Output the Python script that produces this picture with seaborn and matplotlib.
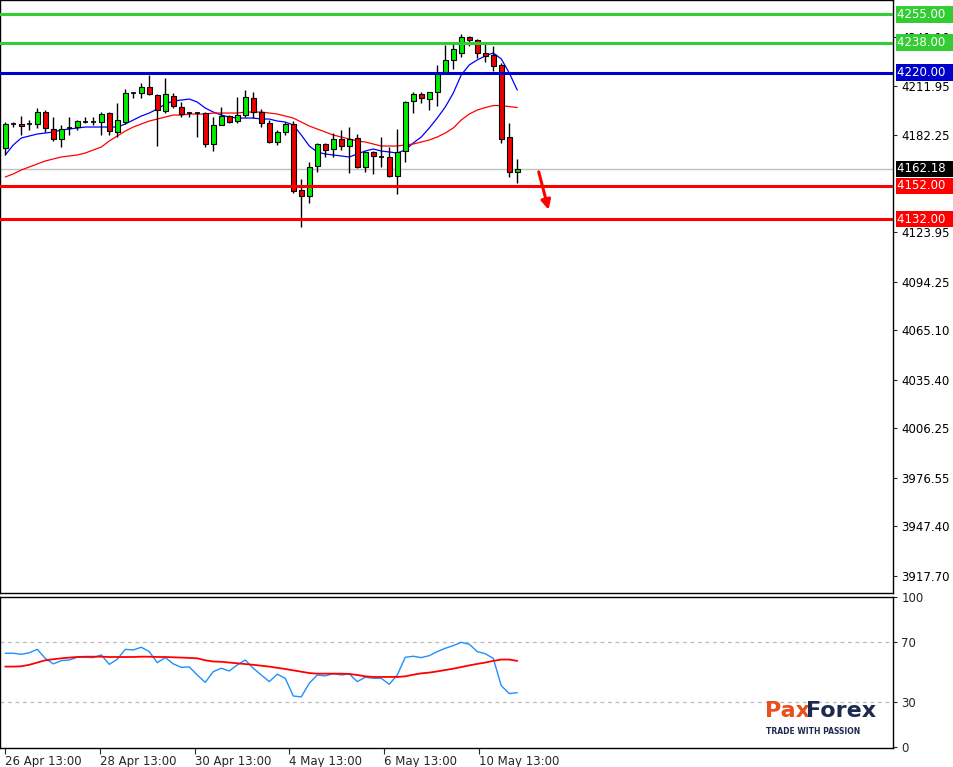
import numpy as np
import pandas as pd
import matplotlib
matplotlib.use("Agg")
import matplotlib.pyplot as plt
import seaborn as sns

sns.set_theme(style="white")
plt.rcParams['font.family'] = ['DejaVu Sans']

opens = [4174.7,4189.1,4189.1,4189.1,4189.1,4196.3,4186.1,4180.1,4186.7,4187.3,4190.3,4190.3,4190.3,4195.7,4184.3,4190.3,4207.7,4207.7,4211.3,4206.5,
         4196.9,4205.9,4199.3,4195.7,4195.7,4195.7,4177.1,4188.5,4193.9,4190.9,4194.5,4204.7,4196.3,4189.7,4178.3,4184.3,4189.1,4149.5,4145.9,4163.9,
         4177.1,4174.1,4180.1,4175.9,4180.7,4163.3,4172.3,4169.3,4169.3,4157.9,4172.9,4203.0,4207.1,4204.1,4208.3,4220.4,4227.6,4231.8,4241.4,4239.6,
         4231.8,4230.6,4224.6,4181.3,4160.3]
highs = [4190.3,4190.3,4193.9,4191.5,4198.7,4197.5,4193.3,4188.5,4193.3,4191.5,4193.3,4193.3,4196.3,4196.3,4201.7,4210.2,4208.3,4213.8,4218.6,4207.1,
         4216.8,4207.7,4202.3,4196.3,4196.3,4196.3,4193.3,4199.3,4194.5,4205.3,4209.5,4208.3,4198.1,4191.5,4185.5,4190.3,4190.9,4156.1,4166.3,4177.7,
         4177.7,4183.7,4185.5,4187.3,4183.1,4172.9,4172.9,4181.3,4175.3,4186.1,4202.9,4208.3,4208.3,4208.3,4224.6,4236.6,4237.8,4243.2,4242.0,4240.2,
         4237.2,4236.0,4225.8,4189.7,4168.1]
lows = [4170.5,4187.3,4182.5,4185.5,4186.7,4184.3,4178.9,4175.3,4182.5,4185.5,4189.7,4188.5,4182.5,4182.5,4181.3,4189.1,4204.7,4204.7,4206.5,4175.9,
        4195.7,4198.7,4193.3,4193.3,4181.3,4175.3,4172.9,4188.5,4189.7,4189.7,4193.3,4192.7,4187.3,4177.7,4176.5,4182.5,4147.7,4127.3,4141.7,4160.3,
        4169.3,4169.3,4173.5,4159.7,4162.7,4160.3,4159.1,4163.3,4157.3,4147.1,4166.3,4195.7,4201.7,4197.5,4199.9,4219.2,4222.2,4229.4,4236.0,4228.8,
        4226.4,4221.0,4177.7,4157.3,4153.7]
closes = [4189.1,4189.1,4187.9,4189.1,4196.3,4186.7,4180.1,4186.1,4186.7,4190.9,4190.3,4190.3,4195.1,4184.9,4191.5,4207.7,4207.7,4211.3,4207.1,4197.5,
          4207.1,4199.9,4195.1,4195.7,4195.7,4177.1,4188.5,4193.9,4190.3,4194.5,4205.3,4196.3,4189.7,4178.3,4184.3,4189.1,4148.9,4145.9,4163.3,4177.1,
          4173.5,4180.1,4175.9,4180.1,4163.3,4172.3,4169.9,4169.3,4157.9,4172.3,4202.3,4207.1,4204.7,4208.3,4219.2,4227.6,4234.2,4241.4,4239.6,4231.8,
          4230.0,4224.0,4180.1,4160.3,4162.18]
ma_fast = [4170.5,4176.5,4180.7,4181.9,4183.1,4183.7,4184.3,4185.5,4186.1,4186.7,4187.3,4187.3,4187.3,4187.3,4187.3,4189.1,4191.5,4193.9,4195.7,4198.1,
           4201.1,4202.9,4203.5,4204.1,4202.3,4198.7,4196.3,4194.5,4193.3,4192.7,4192.7,4192.7,4192.1,4192.1,4190.9,4190.3,4188.5,4182.5,4175.9,4172.3,
           4171.1,4170.5,4169.9,4169.3,4171.1,4172.9,4174.1,4172.9,4172.3,4171.7,4173.5,4177.7,4181.3,4186.7,4192.7,4199.3,4207.7,4218.6,4224.6,4227.6,
           4230.0,4231.8,4228.2,4219.8,4209.5]
ma_slow = [4157.3,4159.1,4161.5,4163.3,4165.1,4166.9,4168.1,4169.3,4169.9,4170.5,4171.7,4173.5,4175.3,4178.9,4181.9,4184.9,4187.3,4189.1,4190.9,4192.1,
           4193.3,4194.5,4194.5,4195.1,4195.1,4195.1,4195.7,4195.7,4195.7,4195.7,4196.3,4196.3,4196.3,4195.7,4195.1,4193.9,4192.7,4190.3,4187.9,4186.1,
           4184.3,4182.5,4181.3,4180.1,4178.9,4178.3,4177.1,4175.9,4175.9,4175.9,4176.5,4177.1,4178.3,4179.5,4181.3,4183.7,4186.7,4191.5,4195.1,4197.5,
           4199.0,4200.2,4200.2,4199.6,4199.0]
rsi = [62.7,62.7,62.0,63.0,65.3,59.3,55.6,57.8,58.2,60.0,60.0,59.8,61.6,55.3,58.7,65.3,64.9,66.7,63.8,56.4,
       59.8,55.6,53.3,53.6,48.2,43.3,50.4,52.7,50.9,54.9,58.2,52.7,48.2,43.8,48.7,46.0,34.2,33.6,42.7,48.2,
       47.6,49.1,48.2,48.9,43.8,46.7,46.0,46.0,42.0,48.2,60.0,60.7,59.8,61.1,63.8,66.0,67.8,70.0,68.7,63.8,
       62.4,59.3,41.1,35.8,36.4]
rsi_signal = [53.8,53.8,54.0,55.0,56.5,58.0,58.7,59.3,59.8,60.2,60.4,60.4,60.4,60.2,60.2,60.2,60.2,60.4,60.4,60.2,
              60.2,60.0,59.8,59.6,59.3,58.0,57.2,57.0,56.5,56.0,55.5,55.0,54.4,53.8,53.0,52.2,51.3,50.4,49.5,49.1,
              49.1,49.1,49.1,48.9,48.2,47.3,46.9,46.9,46.9,46.9,47.3,48.4,49.3,49.8,50.6,51.5,52.4,53.5,54.6,55.6,
              56.5,57.6,58.5,58.5,57.6]

levels = [4255.00, 4238.00, 4220.00, 4152.00, 4132.00]
level_colors = ['#33cc33', '#33cc33', '#0000cc', '#ff0000', '#ff0000']
price_ticks = [4241.10, 4211.95, 4182.25, 4123.95, 4094.25, 4065.10, 4035.40, 4006.25, 3976.55, 3947.40, 3917.70]
current = 4162.18
date_labels = ['26 Apr 13:00', '28 Apr 13:00', '30 Apr 13:00', '4 May 13:00', '6 May 13:00', '10 May 13:00']
date_pos = [0, 11.83, 23.67, 35.5, 47.33, 59.17]
rsi_ticks = [100, 70, 30, 0]
arrow_start = (66.6, 4162.0)
arrow_end = (68.0, 4136.0)

n = len(closes)
idx = np.arange(n)
df = pd.DataFrame({'i': idx, 'o': opens, 'h': highs, 'l': lows, 'c': closes,
                   'fast': ma_fast, 'slow': ma_slow, 'rsi': rsi, 'sig': rsi_signal})

W, H = 954, 767
fig = plt.figure(figsize=(W/100, H/100), dpi=100)
ax = fig.add_axes([0, 1-593/H, 893/W, 593/H])
ax2 = fig.add_axes([0, 1-748/H, 893/W, 151/H])
xlim = (-0.66, 110.97)
ylim = (3907.4, 4263.6)

for _, r in df.iterrows():
    up = r.c >= r.o
    col = '#00ee00' if up else '#ee0000'
    ax.vlines(r.i, r.l, r.h, color='black', lw=1, zorder=3)
    lo, hi = min(r.o, r.c), max(r.o, r.c)
    if hi - lo < 0.7:
        ax.hlines(r.c, r.i-0.3, r.i+0.3, color='black', lw=1.2, zorder=4)
    else:
        ax.bar(r.i, hi-lo, bottom=lo, width=0.6, color=col, edgecolor='black', lw=0.8, zorder=4)

sns.lineplot(data=df, x='i', y='fast', ax=ax, color='#0000ff', lw=0.9, zorder=2)
sns.lineplot(data=df, x='i', y='slow', ax=ax, color='#ff0000', lw=0.9, zorder=2)

ax.axhline(current, color='#c0c0c0', lw=1, zorder=1)
for lv, c in zip(levels, level_colors):
    ax.axhline(lv, color=c, lw=2.2, zorder=5)

ax.annotate('', xy=arrow_end, xytext=arrow_start,
            arrowprops=dict(arrowstyle='-|>', color='#ff0000', lw=2.2, mutation_scale=14))

ax.set_xlim(*xlim); ax.set_ylim(*ylim)
ax.yaxis.tick_right()
ax.set_yticks(price_ticks)
ax.set_yticklabels([f'{t:.2f}' for t in price_ticks], fontsize=8.5, color='black')
ax.tick_params(axis='y', length=3, pad=3, right=True, direction='out', width=0.8)
ax.set_xticks([])
ax.set_xlabel(''); ax.set_ylabel('')
for s in ax.spines.values():
    s.set_color('black'); s.set_linewidth(1)

def tag(a, y, txt, bg):
    a.text(1.005, y, txt + '  ', transform=a.get_yaxis_transform(), ha='left', va='center',
           fontsize=8.5, color='white', zorder=10, clip_on=False,
           bbox=dict(boxstyle='square,pad=0.15', fc=bg, ec='none'))
for lv, c in zip(levels, level_colors):
    tag(ax, lv, f'{lv:.2f}', c)
tag(ax, current, f'{current:.2f}', 'black')

ax2.axhline(70, color='#bbbbbb', lw=0.9, ls=(0, (3, 3)))
ax2.axhline(30, color='#bbbbbb', lw=0.9, ls=(0, (3, 3)))
sns.lineplot(data=df, x='i', y='rsi', ax=ax2, color='#1e90ff', lw=1)
sns.lineplot(data=df, x='i', y='sig', ax=ax2, color='#ff0000', lw=1.3)
ax2.set_xlim(*xlim)
ax2.set_ylim(-0.47, 100.2)
ax2.yaxis.tick_right()
ax2.set_yticks(rsi_ticks)
ax2.set_yticklabels([str(t) for t in rsi_ticks], fontsize=8.5)
ax2.tick_params(axis='y', length=3, pad=3, right=True, width=0.8)
ax2.set_xticks(date_pos)
ax2.set_xticklabels(date_labels, fontsize=8.5, ha='left')
ax2.tick_params(axis='x', length=4, pad=1, bottom=True, width=0.8)
ax2.set_xlabel(''); ax2.set_ylabel('')
for s in ax2.spines.values():
    s.set_color('black'); s.set_linewidth(1)

fig.text(765/W, 1-711/H, 'Pax', fontsize=16, color='#e8501c', fontweight='bold', va='center')
fig.text(806/W, 1-711/H, 'Forex', fontsize=16, color='#1d2a4d', fontweight='bold', va='center')
fig.text(766/W, 1-731/H, 'TRADE WITH PASSION', fontsize=5.5, color='#1d2a4d', fontweight='bold', va='center')

fig.savefig('out.png', dpi=100)
